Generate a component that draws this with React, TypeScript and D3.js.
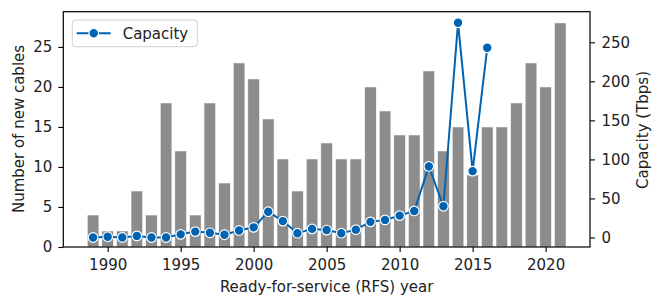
import React, { useEffect, useRef } from 'react';
import * as d3 from 'd3';

// bars: new cables per RFS year
const years = [1989, 1990, 1991, 1992, 1993, 1994, 1995, 1996, 1997, 1998, 1999, 2000, 2001, 2002, 2003, 2004, 2005,
    2006, 2007, 2008, 2009, 2010, 2011, 2012, 2013, 2014, 2015, 2016, 2017, 2018, 2019, 2020, 2021];
const cables = [4, 2, 2, 7, 4, 18, 12, 4, 18, 8, 23, 21, 16, 11, 7, 11, 13,
    11, 11, 20, 17, 14, 14, 22, 12, 15, 9, 15, 15, 18, 23, 20, 28];

// line: capacity (Tbps), only up to 2016
const capYears = [1989, 1990, 1991, 1992, 1993, 1994, 1995, 1996, 1997, 1998, 1999, 2000, 2001, 2002, 2003, 2004,
    2005, 2006, 2007, 2008, 2009, 2010, 2011, 2012, 2013, 2014, 2015, 2016];
const capacity = [0, 1, 0, 2, 0, 0, 4, 7.5, 6, 3.5, 9, 13, 33, 21, 5.5, 11,
    9.5, 5.5, 10, 20, 22.5, 28, 34, 91, 40, 275, 85, 243];

const xTicks = [1990, 1995, 2000, 2005, 2010, 2015, 2020];
const leftTicks = [0, 5, 10, 15, 20, 25];
const rightTicks = [0, 50, 100, 150, 200, 250];

const BLUE = '#0063b1';
const FONT = '"DejaVu Sans", sans-serif';

const App = () => {
    const chartRef = useRef<SVGSVGElement>(null);

    useEffect(() => {
        const svg = d3.select(chartRef.current);
        svg.selectAll('*').remove();

        const left = 63.3, right = 590, top = 11.7, bottom = 247;

        const x = d3.scaleLinear().domain([1986.96, 2023.04]).range([left, right]);
        const yL = d3.scaleLinear().domain([0, 29.4]).range([bottom, top]);
        const yR = d3.scaleLinear().domain([-12.2, 289.2]).range([bottom, top]);
        const bw = (x(1991) - x(1990)) * 0.8;

        // bars
        svg.append('g')
            .selectAll('rect')
            .data(years.map((y, i) => ({ year: y, n: cables[i] })))
            .enter()
            .append('rect')
            .attr('x', d => x(d.year) - bw / 2)
            .attr('width', bw)
            .attr('y', d => yL(d.n))
            .attr('height', d => bottom - yL(d.n))
            .attr('fill', '#8c8c8c')
            .attr('stroke', 'white')
            .attr('stroke-width', 0.6);

        // capacity line
        const capData = capYears.map((y, i) => ({ year: y, c: capacity[i] }));
        const line = d3.line<{ year: number; c: number }>()
            .x(d => x(d.year))
            .y(d => yR(d.c));

        svg.append('path')
            .datum(capData)
            .attr('d', line)
            .attr('fill', 'none')
            .attr('stroke', BLUE)
            .attr('stroke-width', 2);

        svg.append('g')
            .selectAll('circle')
            .data(capData)
            .enter()
            .append('circle')
            .attr('cx', d => x(d.year))
            .attr('cy', d => yR(d.c))
            .attr('r', 4.8)
            .attr('fill', BLUE)
            .attr('stroke', 'white')
            .attr('stroke-width', 1.2);

        // frame
        svg.append('rect')
            .attr('x', left).attr('y', top)
            .attr('width', right - left).attr('height', bottom - top)
            .attr('fill', 'none')
            .attr('stroke', 'black')
            .attr('stroke-width', 1.2);

        const styleAxis = (g: any) => {
            g.select('.domain').remove();
            g.selectAll('line').attr('stroke', 'black').attr('stroke-width', 1.1);
            g.selectAll('text').attr('font-family', FONT).attr('font-size', 15).attr('fill', '#222');
        };

        svg.append('g')
            .attr('transform', `translate(0,${bottom})`)
            .call(d3.axisBottom(x).tickValues(xTicks).tickFormat(d3.format('d')).tickSize(5).tickPadding(7.5))
            .call(styleAxis);

        svg.append('g')
            .attr('transform', `translate(${left},0)`)
            .call(d3.axisLeft(yL).tickValues(leftTicks).tickSize(5).tickPadding(6))
            .call(styleAxis);

        svg.append('g')
            .attr('transform', `translate(${right},0)`)
            .call(d3.axisRight(yR).tickValues(rightTicks).tickSize(5).tickPadding(6.5))
            .call(styleAxis);

        // axis titles
        svg.append('text')
            .attr('transform', 'translate(24,129) rotate(-90)')
            .attr('text-anchor', 'middle')
            .attr('font-family', FONT).attr('font-size', 15).attr('fill', '#222')
            .text('Number of new cables');

        svg.append('text')
            .attr('transform', 'translate(648,130) rotate(-90)')
            .attr('text-anchor', 'middle')
            .attr('font-family', FONT).attr('font-size', 15).attr('fill', '#222')
            .text('Capacity (Tbps)');

        svg.append('text')
            .attr('x', (left + right) / 2)
            .attr('y', 292)
            .attr('text-anchor', 'middle')
            .attr('font-family', FONT).attr('font-size', 15).attr('fill', '#222')
            .text('Ready-for-service (RFS) year');

        // legend
        const lg = svg.append('g');
        lg.append('rect')
            .attr('x', 72.3).attr('y', 20)
            .attr('width', 125).attr('height', 26.7)
            .attr('rx', 3)
            .attr('fill', 'white').attr('fill-opacity', 0.8)
            .attr('stroke', '#d0d0d0');
        lg.append('line')
            .attr('x1', 76.7).attr('x2', 110.7)
            .attr('y1', 33.3).attr('y2', 33.3)
            .attr('stroke', BLUE).attr('stroke-width', 2);
        lg.append('circle')
            .attr('cx', 93.7).attr('cy', 33.3).attr('r', 4.8)
            .attr('fill', BLUE).attr('stroke', 'white').attr('stroke-width', 1.2);
        lg.append('text')
            .attr('x', 122.7).attr('y', 39)
            .attr('font-family', FONT).attr('font-size', 15).attr('fill', '#222')
            .text('Capacity');
    }, []);

    return (
        <svg ref={chartRef} width={652} height={297}
            style={{ position: 'fixed', left: 0, top: 0, background: 'white' }} />
    );
};

export default App;
